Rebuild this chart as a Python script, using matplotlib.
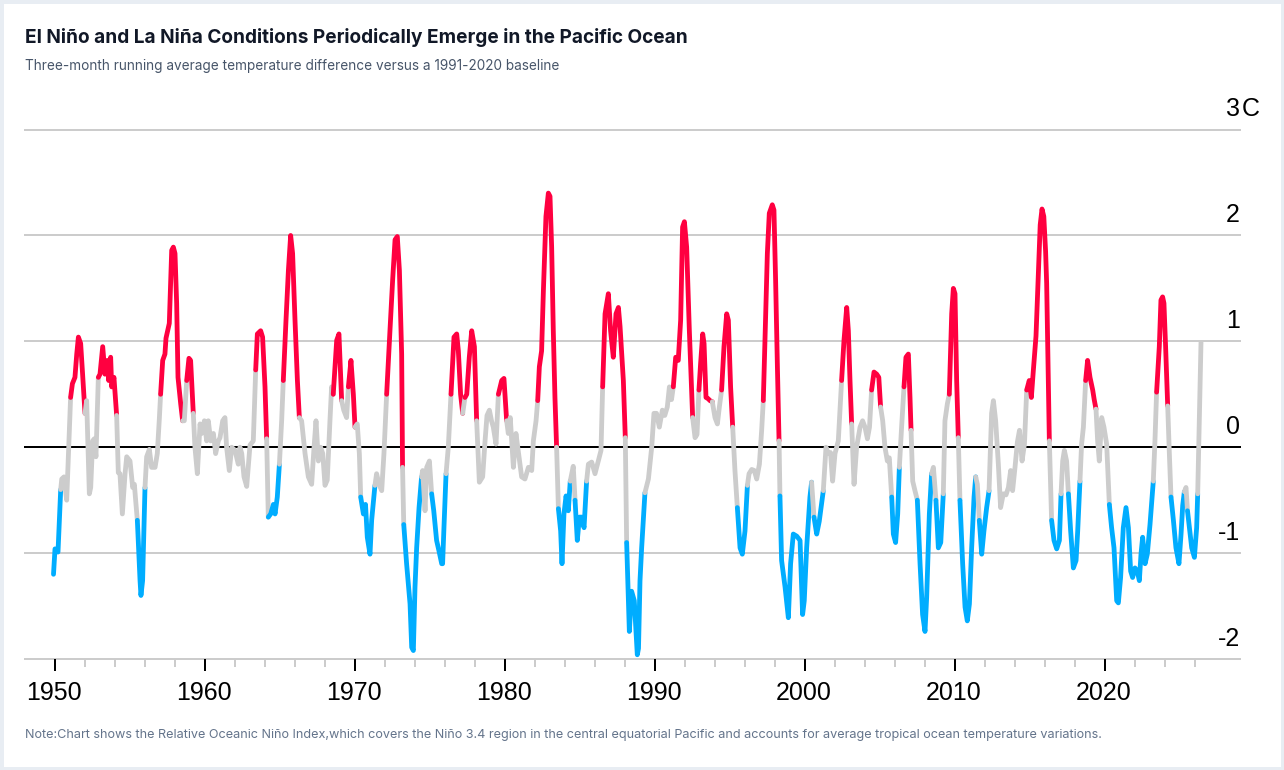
import numpy as np
import matplotlib
matplotlib.use("Agg")
import matplotlib.pyplot as plt
from matplotlib.patches import Rectangle

# ---------------- text ----------------
TITLE = "El Niño and La Niña Conditions Periodically Emerge in the Pacific Ocean"
SUBTITLE = "Three-month running average temperature difference versus a 1991-2020 baseline"
NOTE = ("Note:Chart shows the Relative Oceanic Niño Index,which covers the Niño 3.4 region in the "
        "central equatorial Pacific and accounts for average tropical ocean temperature variations.")

# ---------------- data: (decimal year, relative ONI in °C) ----------------
RONI_1950s = [(1949.90, -1.20), (1950.00, -0.96), (1950.20, -0.99), (1950.38, -0.40), (1950.45, -0.30),
              (1950.60, -0.28), (1950.78, -0.50), (1951.04, 0.47), (1951.16, 0.60), (1951.33, 0.66),
              (1951.45, 0.88), (1951.56, 1.04), (1951.71, 0.98), (1951.84, 0.69), (1952.00, 0.32),
              (1952.11, 0.44), (1952.29, -0.44), (1952.38, -0.38), (1952.51, 0.06), (1952.62, 0.08),
              (1952.73, -0.09), (1952.89, 0.66), (1953.00, 0.69), (1953.18, 0.95), (1953.33, 0.69),
              (1953.49, 0.82), (1953.58, 0.63), (1953.71, 0.85), (1953.78, 0.57), (1953.93, 0.66),
              (1954.11, 0.30), (1954.22, -0.24), (1954.33, -0.25), (1954.49, -0.63), (1954.67, -0.25),
              (1954.78, -0.09), (1955.00, -0.13), (1955.18, -0.38), (1955.29, -0.35), (1955.40, -0.54),
              (1955.49, -0.69), (1955.67, -1.26), (1955.73, -1.40), (1955.84, -1.26), (1956.00, -0.38),
              (1956.11, -0.09), (1956.29, -0.02), (1956.44, -0.19), (1956.67, -0.19), (1956.82, -0.06),
              (1956.96, 0.28), (1957.04, 0.50), (1957.18, 0.82), (1957.33, 0.88), (1957.40, 1.03),
              (1957.62, 1.17), (1957.78, 1.86), (1957.89, 1.89), (1958.00, 1.83), (1958.11, 1.36),
              (1958.20, 0.66), (1958.38, 0.41), (1958.51, 0.25), (1958.62, 0.25), (1958.78, 0.63),
              (1958.93, 0.84), (1959.04, 0.82), (1959.22, 0.32), (1959.33, 0.00), (1959.49, -0.25),
              (1959.67, 0.22), (1959.78, 0.13), (1959.96, 0.25)]

RONI_1960s = [(1960.11, 0.06), (1960.22, 0.25), (1960.38, 0.06), (1960.56, 0.13), (1960.71, -0.06),
              (1960.89, 0.06), (1961.00, 0.09), (1961.18, 0.25), (1961.33, 0.28), (1961.44, 0.00),
              (1961.62, -0.22), (1961.78, 0.00), (1962.00, -0.03), (1962.22, -0.16), (1962.33, 0.00),
              (1962.45, -0.06), (1962.60, -0.28), (1962.78, -0.37), (1963.00, 0.02), (1963.22, 0.06),
              (1963.38, 0.73), (1963.49, 1.07), (1963.71, 1.10), (1963.84, 1.04), (1964.00, 0.57),
              (1964.11, 0.08), (1964.22, -0.66), (1964.38, -0.63), (1964.56, -0.54), (1964.67, -0.63),
              (1964.82, -0.47), (1964.96, -0.16), (1965.11, 0.25), (1965.22, 0.63), (1965.40, 1.20),
              (1965.56, 1.67), (1965.71, 2.00), (1965.84, 1.83), (1966.00, 1.20), (1966.16, 0.63),
              (1966.29, 0.28), (1966.44, 0.25), (1966.67, -0.06), (1966.89, -0.28), (1967.11, -0.35),
              (1967.27, 0.00), (1967.40, 0.25), (1967.56, -0.13), (1967.71, 0.00), (1967.85, -0.06),
              (1968.00, -0.36), (1968.15, -0.31), (1968.33, 0.25), (1968.44, 0.57), (1968.55, 0.50),
              (1968.78, 1.01), (1968.93, 1.07), (1969.11, 0.44), (1969.25, 0.35), (1969.44, 0.28),
              (1969.56, 0.57), (1969.73, 0.82), (1969.89, 0.50)]

RONI_1970s = [(1970.00, 0.19), (1970.15, 0.22), (1970.29, -0.06), (1970.38, -0.47), (1970.56, -0.63),
              (1970.70, -0.54), (1970.82, -0.85), (1971.00, -1.01), (1971.11, -0.69), (1971.33, -0.36),
              (1971.44, -0.25), (1971.60, -0.35), (1971.78, -0.41), (1971.93, -0.06), (1972.11, 0.50),
              (1972.33, 1.10), (1972.51, 1.58), (1972.67, 1.96), (1972.82, 1.99), (1972.96, 1.67),
              (1973.11, 0.88), (1973.17, -0.19), (1973.25, -0.73), (1973.44, -1.10), (1973.67, -1.48),
              (1973.78, -1.89), (1973.89, -1.92), (1974.00, -1.32), (1974.11, -0.95), (1974.27, -0.57),
              (1974.44, -0.28), (1974.51, -0.22), (1974.67, -0.60), (1974.78, -0.19), (1974.96, -0.13),
              (1975.11, -0.44), (1975.25, -0.60), (1975.44, -0.88), (1975.60, -0.98), (1975.78, -1.10),
              (1975.84, -1.10), (1975.93, -0.76), (1976.07, -0.25), (1976.22, 0.00), (1976.40, 0.50),
              (1976.60, 1.04), (1976.78, 1.07), (1976.89, 0.91), (1977.04, 0.50), (1977.18, 0.32),
              (1977.33, 0.47), (1977.45, 0.50), (1977.62, 0.85), (1977.78, 1.10), (1977.96, 0.95),
              (1978.11, 0.25), (1978.29, -0.33), (1978.51, -0.28), (1978.67, 0.06), (1978.80, 0.30),
              (1978.96, 0.35), (1979.10, 0.25), (1979.22, 0.19), (1979.40, 0.03), (1979.56, 0.50),
              (1979.78, 0.63), (1979.93, 0.65)]

RONI_1980s = [(1980.11, 0.25), (1980.22, 0.13), (1980.35, 0.28), (1980.56, -0.19), (1980.73, 0.13),
              (1980.85, 0.00), (1981.11, -0.28), (1981.33, -0.30), (1981.56, -0.19), (1981.78, -0.22),
              (1981.89, 0.06), (1982.07, 0.25), (1982.18, 0.44), (1982.29, 0.76), (1982.44, 0.91),
              (1982.56, 1.48), (1982.73, 2.18), (1982.89, 2.40), (1983.00, 2.37), (1983.11, 1.89),
              (1983.22, 1.10), (1983.33, 0.47), (1983.44, 0.00), (1983.56, -0.58), (1983.71, -0.79),
              (1983.80, -1.10), (1983.93, -0.63), (1984.07, -0.46), (1984.22, -0.60), (1984.35, -0.32),
              (1984.55, -0.18), (1984.67, -0.50), (1984.82, -0.88), (1984.96, -0.66), (1985.11, -0.66),
              (1985.27, -0.76), (1985.44, -0.32), (1985.56, -0.16), (1985.78, -0.14), (1986.00, -0.25),
              (1986.22, -0.13), (1986.40, -0.03), (1986.51, 0.57), (1986.67, 1.26), (1986.89, 1.45),
              (1987.04, 1.10), (1987.22, 0.85), (1987.40, 1.26), (1987.56, 1.32), (1987.67, 1.14),
              (1987.89, 0.63), (1988.02, 0.09), (1988.11, -0.90), (1988.29, -1.74), (1988.44, -1.36),
              (1988.62, -1.45), (1988.82, -1.96), (1988.90, -1.90), (1989.00, -1.26), (1989.11, -0.95),
              (1989.33, -0.43), (1989.56, -0.30), (1989.78, 0.00), (1989.93, 0.32)]

RONI_1990s = [(1990.10, 0.32), (1990.29, 0.19), (1990.49, 0.35), (1990.65, 0.30), (1990.82, 0.38),
              (1990.96, 0.57), (1991.10, 0.45), (1991.22, 0.57), (1991.38, 0.85), (1991.55, 0.82),
              (1991.71, 1.20), (1991.84, 2.08), (1991.96, 2.13), (1992.11, 1.89), (1992.29, 1.10),
              (1992.51, 0.28), (1992.67, 0.09), (1992.80, 0.12), (1992.93, 0.54), (1993.04, 0.79),
              (1993.18, 1.07), (1993.27, 0.98), (1993.40, 0.47), (1993.53, 0.46), (1993.67, 0.44),
              (1993.82, 0.43), (1994.00, 0.28), (1994.16, 0.22), (1994.29, 0.38), (1994.44, 0.54),
              (1994.60, 0.95), (1994.78, 1.26), (1994.89, 1.20), (1995.04, 0.57), (1995.18, 0.19),
              (1995.33, -0.22), (1995.49, -0.57), (1995.67, -0.95), (1995.82, -1.01), (1996.00, -0.79),
              (1996.16, -0.36), (1996.27, -0.25), (1996.45, -0.21), (1996.62, -0.22), (1996.78, -0.30),
              (1996.96, -0.16), (1997.11, 0.16), (1997.22, 0.44), (1997.38, 1.26), (1997.49, 1.83),
              (1997.62, 2.21), (1997.82, 2.29), (1997.93, 2.24), (1998.04, 1.58), (1998.16, 0.76),
              (1998.27, 0.06), (1998.33, -0.46), (1998.44, -1.07), (1998.67, -1.32), (1998.89, -1.61),
              (1999.04, -1.10), (1999.22, -0.82), (1999.45, -0.84), (1999.67, -0.88), (1999.84, -1.58),
              (1999.95, -1.45)]

RONI_2000s = [(2000.11, -0.95), (2000.33, -0.47), (2000.44, -0.33), (2000.60, -0.66), (2000.78, -0.82),
              (2000.95, -0.70), (2001.22, -0.41), (2001.40, 0.00), (2001.55, -0.06), (2001.70, -0.05),
              (2001.84, -0.32), (2002.00, -0.06), (2002.22, 0.06), (2002.44, 0.63), (2002.60, 1.01),
              (2002.78, 1.32), (2002.89, 1.10), (2003.00, 0.63), (2003.11, 0.22), (2003.27, -0.35),
              (2003.44, 0.00), (2003.67, 0.19), (2003.84, 0.25), (2004.00, 0.19), (2004.16, 0.08),
              (2004.30, 0.19), (2004.44, 0.54), (2004.60, 0.71), (2004.78, 0.69), (2004.92, 0.66),
              (2005.04, 0.38), (2005.18, 0.25), (2005.33, 0.00), (2005.49, -0.13), (2005.62, -0.10),
              (2005.78, -0.47), (2005.89, -0.82), (2006.04, -0.90), (2006.18, -0.63), (2006.29, -0.19),
              (2006.44, 0.19), (2006.60, 0.57), (2006.73, 0.85), (2006.89, 0.88), (2007.00, 0.47),
              (2007.07, 0.16), (2007.18, -0.32), (2007.33, -0.41), (2007.49, -0.50), (2007.67, -1.10),
              (2007.84, -1.58), (2008.00, -1.74), (2008.11, -1.42), (2008.29, -0.63), (2008.44, -0.25),
              (2008.56, -0.19), (2008.73, -0.50), (2008.89, -0.95), (2009.05, -0.90), (2009.22, -0.44),
              (2009.33, 0.25), (2009.49, 0.41), (2009.62, 0.50), (2009.78, 1.26), (2009.89, 1.50),
              (2010.00, 1.45)]

RONI_2010s = [(2010.11, 0.63), (2010.22, 0.09), (2010.33, -0.50), (2010.51, -1.10), (2010.67, -1.51),
              (2010.82, -1.64), (2010.96, -1.48), (2011.11, -0.95), (2011.27, -0.47), (2011.38, -0.28),
              (2011.49, -0.35), (2011.62, -0.69), (2011.78, -1.01), (2011.93, -0.79), (2012.11, -0.57),
              (2012.27, -0.41), (2012.44, 0.32), (2012.56, 0.44), (2012.71, 0.25), (2012.89, -0.16),
              (2013.04, -0.57), (2013.22, -0.44), (2013.40, -0.45), (2013.56, -0.38), (2013.71, -0.22),
              (2013.84, -0.41), (2014.00, -0.19), (2014.16, 0.05), (2014.30, 0.16), (2014.47, -0.13),
              (2014.63, 0.03), (2014.78, 0.54), (2014.95, 0.63), (2015.09, 0.47), (2015.22, 0.72),
              (2015.40, 1.05), (2015.56, 1.65), (2015.68, 2.10), (2015.80, 2.25), (2015.92, 2.18),
              (2016.04, 1.85), (2016.11, 1.55), (2016.29, 0.06), (2016.44, -0.69), (2016.60, -0.88),
              (2016.78, -0.96), (2016.96, -0.88), (2017.07, -0.44), (2017.18, -0.13), (2017.29, -0.03),
              (2017.44, -0.13), (2017.56, -0.44), (2017.71, -0.79), (2017.89, -1.14), (2018.07, -1.07),
              (2018.18, -0.79), (2018.33, -0.32), (2018.44, 0.03), (2018.56, 0.19), (2018.71, 0.63),
              (2018.84, 0.82), (2019.00, 0.66), (2019.18, 0.54), (2019.28, 0.45), (2019.40, 0.36),
              (2019.51, 0.06), (2019.62, -0.13), (2019.78, 0.28), (2019.93, 0.19)]

RONI_2020s = [(2020.11, 0.03), (2020.29, -0.54), (2020.44, -0.76), (2020.60, -0.95), (2020.78, -1.45),
              (2020.89, -1.47), (2021.04, -1.23), (2021.22, -0.76), (2021.40, -0.57), (2021.56, -0.76),
              (2021.71, -1.17), (2021.84, -1.23), (2022.00, -1.14), (2022.15, -1.17), (2022.29, -1.26),
              (2022.40, -1.01), (2022.51, -0.85), (2022.67, -1.10), (2022.82, -1.01), (2023.00, -0.73),
              (2023.22, -0.32), (2023.33, 0.06), (2023.44, 0.52), (2023.62, 0.95), (2023.73, 1.39),
              (2023.84, 1.42), (2023.93, 1.36), (2024.04, 0.95), (2024.18, 0.39), (2024.29, -0.06),
              (2024.40, -0.47), (2024.56, -0.69), (2024.73, -0.95), (2024.93, -1.10), (2025.07, -0.82),
              (2025.18, -0.55), (2025.29, -0.42), (2025.40, -0.38), (2025.50, -0.60), (2025.62, -0.75),
              (2025.78, -0.95), (2025.96, -1.04), (2026.11, -0.76), (2026.18, -0.44), (2026.40, 0.99)]

# episode periods (first coloured point .. first neutral point after it)
EL_NINO_START = [1951.04, 1952.89, 1957.04, 1958.78, 1963.38, 1965.22, 1968.55, 1969.56, 1972.11,
                 1976.40, 1977.33, 1979.56, 1982.18, 1986.51, 1991.22, 1992.93, 1994.44, 1997.22,
                 2002.44, 2004.44, 2006.60, 2009.62, 2014.78, 2018.71, 2023.44]
EL_NINO_END = [1952.00, 1954.11, 1958.51, 1959.22, 1964.11, 1966.29, 1969.11, 1970.00, 1973.17,
               1977.18, 1978.11, 1980.11, 1983.44, 1988.02, 1992.51, 1993.82, 1995.18, 1998.27,
               2003.11, 2005.04, 2007.07, 2010.22, 2016.29, 2019.40, 2024.18]
LA_NINA_START = [1949.90, 1955.49, 1964.22, 1970.38, 1973.25, 1975.11, 1983.56, 1984.67, 1988.11,
                 1995.49, 1998.33, 2000.60, 2005.78, 2007.49, 2008.73, 2010.33, 2011.62, 2016.44,
                 2017.56, 2020.29, 2024.40, 2025.50]
LA_NINA_END = [1950.38, 1956.00, 1964.96, 1971.33, 1974.44, 1976.07, 1984.35, 1985.44, 1989.33,
               1996.16, 2000.44, 2001.22, 2006.29, 2008.44, 2009.22, 2011.38, 2012.27, 2017.07,
               2018.33, 2023.22, 2025.29, 2026.18]

X_TICKS = [1950, 1960, 1970, 1980, 1990, 2000, 2010, 2020]
X_TICK_LABELS = ["1950", "1960", "1970", "1980", "1990", "2000", "2010", "2020"]
Y_TICKS = [-2, -1, 0, 1, 2, 3]
Y_TICK_LABELS = ["-2", "-1", "0", "1", "2", "3"]
Y_UNIT = "C"   # appended to the top label

# ---------------- assemble ----------------
allpts = RONI_1950s + RONI_1960s + RONI_1970s + RONI_1980s + RONI_1990s + RONI_2000s + RONI_2010s + RONI_2020s
t = np.array([p[0] for p in allpts])
v = np.array([p[1] for p in allpts])
phase = np.zeros(len(t), dtype=int)
for s, e in zip(EL_NINO_START, EL_NINO_END):
    phase[(t >= s - 1e-6) & (t < e - 1e-6)] = 1
for s, e in zip(LA_NINA_START, LA_NINA_END):
    phase[(t >= s - 1e-6) & (t < e - 1e-6)] = -1

COLORS = {1: "#ff0040", -1: "#00adff", 0: "#cccccc"}

W, H = 1284, 770
fig = plt.figure(figsize=(W / 100, H / 100), dpi=100)
fig.patch.set_facecolor("white")

ax_left, ax_right, ax_top, ax_bot = 25, 1240, 129.6, 659
ax = fig.add_axes([ax_left / W, 1 - ax_bot / H, (ax_right - ax_left) / W, (ax_bot - ax_top) / H])
ax.set_facecolor("none")
ax.set_xlim(1948.0, 2029.0)
ax.set_ylim(-2, 3)
for s in ax.spines.values():
    s.set_visible(False)

PX = 72 / 100  # points per pixel

# grid lines + y labels
for k, (yv, lab) in enumerate(zip(Y_TICKS, Y_TICK_LABELS)):
    ax.axhline(yv, color="black" if yv == 0 else "#cccccc", lw=2 * PX, zorder=1, clip_on=False)
    ax.annotate(lab, xy=(1.0, yv), xycoords=("axes fraction", "data"), xytext=(0, 13.5 * PX),
                textcoords="offset points", ha="right", va="baseline",
                fontsize=18, family="Liberation Sans", color="black", annotation_clip=False)
    if k == len(Y_TICKS) - 1:
        ax.annotate(Y_UNIT, xy=(1.0, yv), xycoords=("axes fraction", "data"), xytext=(1.5 * PX, 13.5 * PX),
                    textcoords="offset points", ha="left", va="baseline",
                    fontsize=18, family="Liberation Sans", color="black", annotation_clip=False)

# x ticks
ax.set_yticks([])
ax.set_xticks(X_TICKS)
ax.set_xticklabels([""] * len(X_TICKS))
minor = [y for y in range(1952, 2027, 2) if y % 10 != 0]
ax.set_xticks(minor, minor=True)
ax.tick_params(axis="x", which="major", direction="out", length=12 * PX, width=2 * PX, color="black")
ax.tick_params(axis="x", which="minor", direction="out", length=8 * PX, width=2 * PX, color="#cccccc")
for xv, lab in zip(X_TICKS, X_TICK_LABELS):
    ax.annotate(lab, xy=(xv, 0.0), xycoords=("data", "axes fraction"), xytext=(-1.5 * PX, -41 * PX),
                textcoords="offset points", ha="center", va="baseline",
                fontsize=18, family="Liberation Sans", color="black", annotation_clip=False)

# data line, coloured by episode of the segment start
n = len(t)
i = 0
while i < n - 1:
    c = phase[i]
    j = i
    while j < n - 1 and phase[j] == c:
        j += 1
    ax.plot(t[i:j + 1], v[i:j + 1], color=COLORS[c], lw=4.8 * PX,
            solid_capstyle="round", solid_joinstyle="round", zorder=3)
    i = j

# texts
title = fig.text(25 / W, 1 - 43 / H, TITLE, fontsize=13, fontweight="bold", family="Inter",
                 color="#111827", ha="left", va="baseline")
sub = fig.text(25 / W, 1 - 70 / H, SUBTITLE, fontsize=9.5, family="Inter",
               color="#475569", ha="left", va="baseline")
note = fig.text(25 / W, 1 - 738 / H, NOTE, fontsize=9, family="Inter",
                color="#64748b", ha="left", va="baseline")

fig.canvas.draw()
r = fig.canvas.get_renderer()
for txt, target in ((title, 663), (sub, 533), (note, 1083)):
    w = txt.get_window_extent(r).width
    txt.set_fontsize(txt.get_fontsize() * target / w)

fig.patches.append(Rectangle((0, 0), 1, 1, transform=fig.transFigure, fill=False,
                             edgecolor="#e8edf3", lw=5, zorder=10))

fig.savefig("out.png", dpi=100, facecolor="white")
